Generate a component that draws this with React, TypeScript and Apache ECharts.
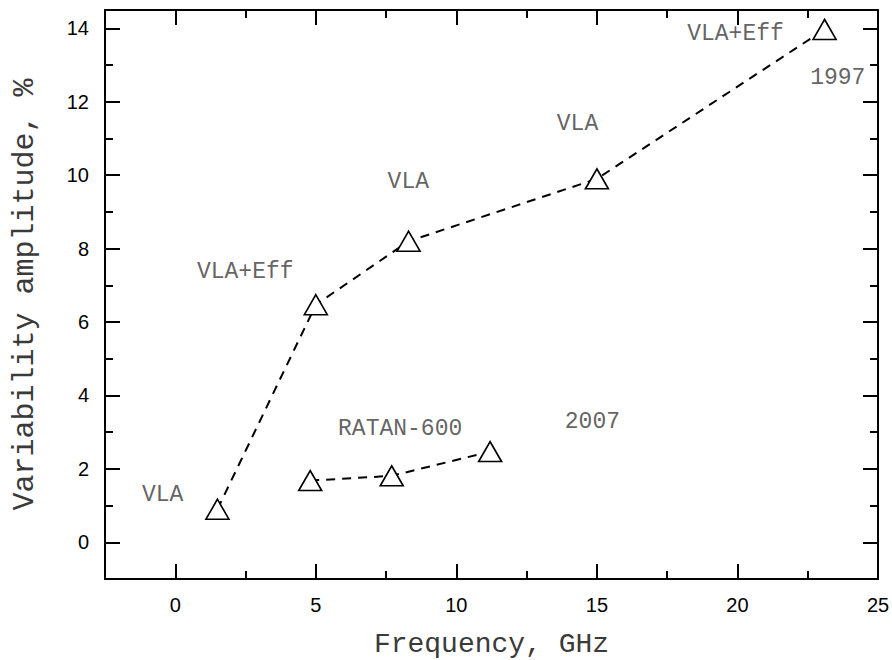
import React, { useEffect, useRef } from "react";
import * as echarts from "echarts";

// 1997 series (VLA / VLA+Eff)
const freq1997 = [1.5, 5.0, 8.3, 15.0, 23.1];
const amp1997 = [0.9, 6.47, 8.2, 9.9, 13.97];

// 2007 series (RATAN-600)
const freq2007 = [4.8, 7.7, 11.2];
const amp2007 = [1.68, 1.81, 2.47];

// Annotations (placed in data coordinates)
const noteLabels = ["VLA", "VLA+Eff", "VLA", "VLA", "VLA+Eff", "1997", "RATAN-600", "2007"];
const noteX = [-0.45, 2.49, 8.29, 14.31, 19.93, 23.57, 8.0, 14.84];
const noteY = [1.28, 7.36, 9.81, 11.39, 13.84, 12.66, 3.08, 3.28];

const xTitle = "Frequency, GHz";
const yTitle = "Variability amplitude, %";

const X_MIN = -2.5;
const X_MAX = 25;
const Y_MIN = -1;
const Y_MAX = 14.5;

export default function App() {
  const ref = useRef<HTMLDivElement>(null);

  useEffect(() => {
    if (!ref.current) return;
    const chart = echarts.init(ref.current, null, { renderer: "svg" });

    const lineCol = "#000";
    const tickLabel = {
      fontFamily: "Liberation Sans",
      fontSize: 20,
      color: "#000",
      margin: 16,
    };
    const axisLine = { show: true, onZero: false, lineStyle: { color: lineCol, width: 2 } };

    const xMinor = (pos: string, labels: boolean) => ({
      type: "value",
      position: pos,
      min: X_MIN,
      max: X_MAX,
      interval: 2.5,
      axisLine,
      axisTick: { show: true, inside: true, length: 8, lineStyle: { color: lineCol, width: 2 } },
      axisLabel: labels
        ? {
            show: true,
            ...tickLabel,
            formatter: (v: number) => (Math.abs(v % 5) < 1e-9 ? String(Math.round(v)) : ""),
          }
        : { show: false },
      splitLine: { show: false },
      ...(labels
        ? {
            name: xTitle,
            nameLocation: "middle",
            nameGap: 51,
            nameTextStyle: { fontFamily: "Liberation Mono", fontSize: 28, color: "#3a3a3a" },
          }
        : {}),
    });
    const xMajor = (pos: string) => ({
      type: "value",
      position: pos,
      min: X_MIN,
      max: X_MAX,
      splitNumber: 5,
      axisLine: { show: false, onZero: false },
      axisTick: { show: true, inside: true, length: 15, lineStyle: { color: lineCol, width: 2 } },
      axisLabel: { show: false },
      splitLine: { show: false },
    });
    const yMinor = (pos: string, labels: boolean) => ({
      type: "value",
      position: pos,
      min: Y_MIN,
      max: Y_MAX,
      interval: 1,
      axisLine,
      axisTick: { show: true, inside: true, length: 8, lineStyle: { color: lineCol, width: 2 } },
      axisLabel: labels
        ? {
            show: true,
            ...tickLabel,
            formatter: (v: number) =>
              v >= 0 && Math.abs(v % 2) < 1e-9 ? String(Math.round(v)) : "",
          }
        : { show: false },
      splitLine: { show: false },
      ...(labels
        ? {
            name: yTitle,
            nameLocation: "middle",
            nameGap: 65,
            nameRotate: 90,
            nameTextStyle: { fontFamily: "Liberation Mono", fontSize: 30, color: "#3a3a3a" },
          }
        : {}),
    });
    const yMajor = (pos: string) => ({
      type: "value",
      position: pos,
      min: Y_MIN,
      max: Y_MAX,
      splitNumber: 8,
      axisLine: { show: false, onZero: false },
      axisTick: { show: true, inside: true, length: 15, lineStyle: { color: lineCol, width: 2 } },
      axisLabel: { show: false },
      splitLine: { show: false },
    });

    const lineSeries = (xs: number[], ys: number[], name: string) => ({
      name,
      type: "line",
      xAxisIndex: 0,
      yAxisIndex: 0,
      data: xs.map((x, i) => [x, ys[i]]),
      lineStyle: { color: "#000", width: 2, type: [9, 7] },
      symbol: "triangle",
      symbolSize: [23, 20],
      itemStyle: { color: "#fff", borderColor: "#000", borderWidth: 1.6 },
      z: 3,
    });

    chart.setOption({
      animation: false,
      backgroundColor: "#fff",
      grid: {
        left: 105,
        right: 14,
        top: 10,
        bottom: 81,
        containLabel: false,
        outerBoundsMode: "none",
      },
      xAxis: [xMinor("bottom", true), xMajor("bottom"), xMinor("top", false), xMajor("top")],
      yAxis: [yMinor("left", true), yMajor("left"), yMinor("right", false), yMajor("right")],
      series: [
        lineSeries(freq1997, amp1997, "1997"),
        lineSeries(freq2007, amp2007, "2007"),
        {
          type: "scatter",
          xAxisIndex: 0,
          yAxisIndex: 0,
          symbolSize: 1,
          itemStyle: { color: "rgba(0,0,0,0)" },
          silent: true,
          data: noteLabels.map((n, i) => ({ name: n, value: [noteX[i], noteY[i]] })),
          label: {
            show: true,
            position: "inside",
            formatter: (p: any) => p.name,
            fontFamily: "Liberation Mono",
            fontSize: 23,
            color: "#3a3a3a",
          },
          z: 4,
        },
      ],
    });

    return () => chart.dispose();
  }, []);

  return <div ref={ref} style={{ width: 892, height: 660, position: "absolute", left: 0, top: 0 }} />;
}
